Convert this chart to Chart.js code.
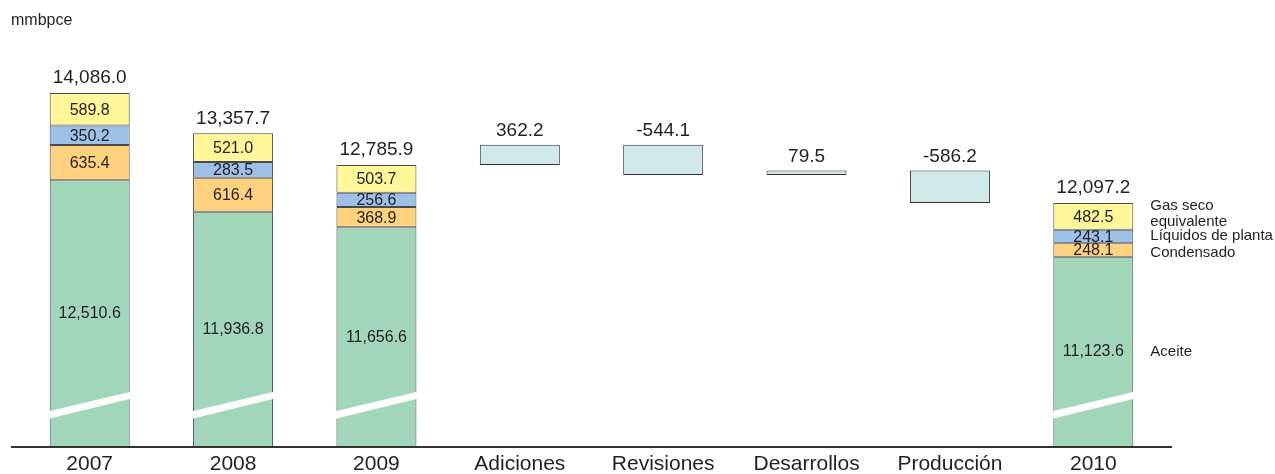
<!DOCTYPE html>
<html>
<head>
<meta charset="utf-8">
<script src="https://cdn.jsdelivr.net/npm/chart.js@4/dist/chart.umd.min.js"></script>
<style>
  html, body { margin: 0; padding: 0; background: #ffffff; }
  #wrap { width: 1275px; height: 474px; }
</style>
</head>
<body>
<div id="wrap"><canvas id="c" width="1275" height="474"></canvas></div>
<script>
// ---- data ----
const categories = ['2007', '2008', '2009', 'Adiciones', 'Revisiones', 'Desarrollos', 'Producción', '2010'];
const aceite     = [12510.6, 11936.8, 11656.6, null, null, null, null, 11123.6];
const condensado = [635.4, 616.4, 368.9, null, null, null, null, 248.1];
const liquidos   = [350.2, 283.5, 256.6, null, null, null, null, 243.1];
const gasSeco    = [589.8, 521.0, 503.7, null, null, null, null, 482.5];
const totales    = [14086.0, 13357.7, 12785.9, null, null, null, null, 12097.2];
const cambios    = [null, null, null, 362.2, -544.1, 79.5, -586.2, null];
const seriesNames = ['Aceite', 'Condensado', 'Líquidos de planta', 'Gas seco equivalente'];
const unitLabel = 'mmbpce';

// ---- build floating ranges from the arrays ----
const layers = [aceite, condensado, liquidos, gasSeco];
const ranges = layers.map(() => categories.map(() => null));
categories.forEach((c, i) => {
  let acc = 0;
  layers.forEach((arr, k) => {
    if (arr[i] == null) return;
    ranges[k][i] = [acc, acc + arr[i]];
    acc += arr[i];
  });
});
const wfRanges = categories.map(() => null);
let running = null;
categories.forEach((c, i) => {
  if (totales[i] != null && cambios[i] == null) { running = totales[i]; return; }
  if (cambios[i] != null) {
    const start = running;
    running = running + cambios[i];
    wfRanges[i] = [Math.min(start, running), Math.max(start, running)];
  }
});

const FONT = "'Liberation Sans', Arial, Helvetica, sans-serif";
const TXT = '#231F20';
const fmt = v => (v < 0 ? '-' : '') + Math.abs(v).toLocaleString('en-US', {minimumFractionDigits: 1, maximumFractionDigits: 1});

const colors = ['#A1D6BB', '#FFD27F', '#9DC0E6', '#FFF799'];

const datasets = layers.map((arr, k) => ({
  label: seriesNames[k],
  data: ranges[k],
  backgroundColor: colors[k],
  borderColor: '#4a4a4a',
  borderWidth: 1,
  borderSkipped: false,
  barPercentage: 0.558,
  categoryPercentage: 1.0,
  clip: 0
}));
datasets.push({
  label: 'Cambio',
  data: wfRanges,
  backgroundColor: '#D0E9E8',
  borderColor: '#333333',
  borderWidth: 1,
  borderSkipped: false,
  barPercentage: 0.558,
  categoryPercentage: 1.0,
  minBarLength: 4,
  clip: 0
});

const decor = {
  id: 'decor',
  afterDatasetsDraw(chart) {
    const ctx = chart.ctx;
    const area = chart.chartArea;
    const greenMeta = chart.getDatasetMeta(0);
    // axis break across the oil bars
    ctx.save();
    greenMeta.data.forEach((bar, i) => {
      if (aceite[i] == null) return;
      const l = bar.x - bar.width / 2 - 2, r = bar.x + bar.width / 2 + 2;
      const b = area.bottom;
      ctx.fillStyle = '#ffffff';
      ctx.beginPath();
      ctx.moveTo(l, b - 35.5);
      ctx.lineTo(r, b - 55.5);
      ctx.lineTo(r, b - 48.5);
      ctx.lineTo(l, b - 28);
      ctx.closePath();
      ctx.fill();
    });
    // baseline
    ctx.strokeStyle = '#333333';
    ctx.lineWidth = 2;
    ctx.beginPath();
    ctx.moveTo(11, area.bottom);
    ctx.lineTo(1172, area.bottom);
    ctx.stroke();

    ctx.fillStyle = TXT;
    ctx.textAlign = 'center';
    ctx.textBaseline = 'middle';
    // segment labels
    layers.forEach((arr, k) => {
      const meta = chart.getDatasetMeta(k);
      meta.data.forEach((bar, i) => {
        if (arr[i] == null) return;
        ctx.font = '16px ' + FONT;
        let y;
        if (k === 0) y = (bar.y + area.bottom) / 2;
        else y = (bar.y + bar.base) / 2 + 1;
        ctx.fillText(fmt(arr[i]), bar.x, y);
      });
    });
    // totals
    const topMeta = chart.getDatasetMeta(3);
    topMeta.data.forEach((bar, i) => {
      if (totales[i] == null) return;
      ctx.font = '19px ' + FONT;
      ctx.fillText(fmt(totales[i]), bar.x, Math.min(bar.y, bar.base) - 15);
    });
    // waterfall labels
    const wfMeta = chart.getDatasetMeta(4);
    wfMeta.data.forEach((bar, i) => {
      if (cambios[i] == null) return;
      ctx.font = '19px ' + FONT;
      ctx.fillText(fmt(cambios[i]), bar.x, Math.min(bar.y, bar.base) - 14);
    });
    // series names beside the last bar
    const last = categories.length - 1;
    const lx = chart.getDatasetMeta(0).data[last];
    const xText = lx.x + lx.width / 2 + 17;
    ctx.textAlign = 'left';
    ctx.font = '15px ' + FONT;
    const offs = [0, 3, -1, 0];
    layers.forEach((arr, k) => {
      const bar = chart.getDatasetMeta(k).data[last];
      let y = k === 0 ? (bar.y + area.bottom) / 2 : (bar.y + bar.base) / 2;
      if (k === 3) {
        ctx.fillText('Gas seco', xText, y - 10);
        ctx.fillText('equivalente', xText, y + 6);
      } else {
        ctx.fillText(seriesNames[k], xText, y + offs[k]);
      }
    });
    // unit
    ctx.font = '16px ' + FONT;
    ctx.fillText(unitLabel, 11, 21);
    ctx.restore();
  }
};

new Chart(document.getElementById('c'), {
  type: 'bar',
  data: { labels: categories, datasets },
  options: {
    responsive: false,
    animation: false,
    layout: { padding: { top: 40, left: 18, right: 110, bottom: 0 } },
    plugins: { legend: { display: false }, tooltip: { enabled: false }, title: { display: false } },
    scales: {
      x: {
        stacked: true,
        grid: { display: false, drawTicks: false, tickLength: 0 },
        border: { display: false },
        ticks: { color: TXT, padding: 7, font: { family: FONT, size: 21, lineHeight: 1 } },
        afterFit(scale) { scale.height = 27; }
      },
      y: {
        stacked: false,
        display: false,
        min: 7686,
        max: 15044
      }
    }
  },
  plugins: [decor]
});
</script>
</body>
</html>
